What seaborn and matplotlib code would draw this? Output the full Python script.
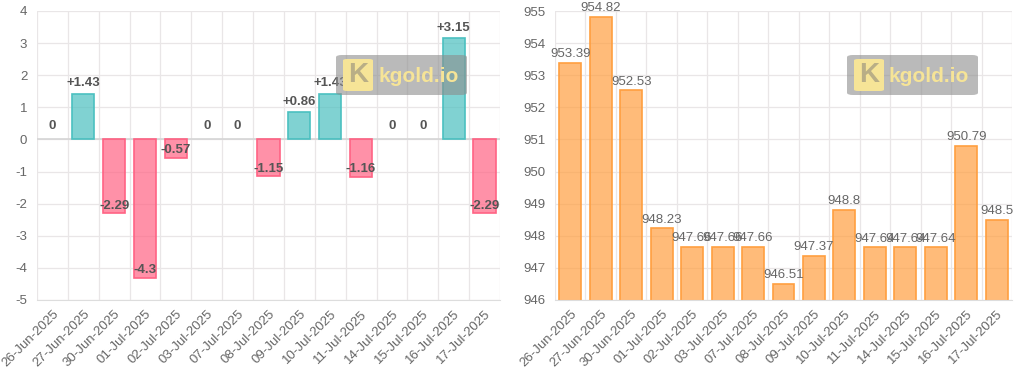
import matplotlib
matplotlib.use("Agg")
import matplotlib.pyplot as plt
import seaborn as sns
from matplotlib.patches import FancyBboxPatch
from matplotlib.ticker import FixedLocator

dates = ["26-Jun-2025", "27-Jun-2025", "30-Jun-2025", "01-Jul-2025", "02-Jul-2025",
         "03-Jul-2025", "07-Jul-2025", "08-Jul-2025", "09-Jul-2025", "10-Jul-2025",
         "11-Jul-2025", "14-Jul-2025", "15-Jul-2025", "16-Jul-2025", "17-Jul-2025"]
changes = [0, 1.43, -2.29, -4.3, -0.57, 0, 0, -1.15, 0.86, 1.43, -1.16, 0, 0, 3.15, -2.29]
prices = [953.39, 954.82, 952.53, 948.23, 947.66, 947.66, 947.66, 946.51, 947.37,
          948.8, 947.64, 947.64, 947.64, 950.79, 948.5]
price_labels = ["953.39", "954.82", "952.53", "948.23", "947.66", "947.66", "947.66",
                "946.51", "947.37", "948.8", "947.64", "947.64", "947.64", "950.79", "948.5"]

sns.set_style("white")
plt.rcParams["font.family"] = ["Liberation Sans", "DejaVu Sans"]
plt.rcParams["axes.unicode_minus"] = False

TEAL_F, TEAL_E = (75/255, 192/255, 192/255, 0.7), "#4bc0c0"
PINK_F, PINK_E = (255/255, 99/255, 132/255, 0.7), "#ff6384"
ORNG_F, ORNG_E = (255/255, 159/255, 64/255, 0.7), "#ff9f40"
GRID = "#e9e6e7"
TXT = "#666666"
FS = 9.5

fig = plt.figure(figsize=(10.24, 3.75), dpi=100)
W, H = 1024, 375


def px_axes(l, t, r, b):
    return fig.add_axes([l / W, (H - b) / H, (r - l) / W, (b - t) / H])


ax1 = px_axes(37, 11, 500, 300)
ax2 = px_axes(555, 11, 1012, 300)


def style(ax, ticks):
    n = len(dates)
    ax.set_xlim(-0.5, n - 0.5)
    ax.set_ylim(ticks[0], ticks[-1])
    ax.yaxis.set_major_locator(FixedLocator(ticks))
    ax.set_yticklabels([str(t) for t in ticks])
    ax.set_xticks(range(n))
    ax.set_xticklabels(dates, rotation=45, ha="right", rotation_mode="anchor")
    ax.xaxis.set_minor_locator(FixedLocator([i - 0.5 for i in range(n + 1)]))
    ax.grid(False)
    for t in ticks:
        ax.axhline(t, color=GRID, lw=0.9, zorder=0)
    for i in range(n + 1):
        ax.axvline(i - 0.5, color=GRID, lw=0.9, zorder=0)
    ax.tick_params(axis="x", which="major", length=0, pad=6, labelsize=FS, labelcolor=TXT)
    ax.tick_params(axis="x", which="minor", length=7, color=GRID, width=0.9)
    ax.tick_params(axis="y", length=0, pad=7, labelsize=FS, labelcolor=TXT)
    for s in ax.spines.values():
        s.set_visible(False)
    ax.spines["bottom"].set_visible(True)
    ax.spines["bottom"].set_color("#dddddd")
    ax.set_xlabel("")
    ax.set_ylabel("")


# left: daily change
sns.barplot(x=dates, y=changes, color=TEAL_E, saturation=1,
            width=0.72, ax=ax1, zorder=2)
for p, v in zip(ax1.patches, changes):
    if v == 0:
        p.set_edgecolor("none")
        p.set_facecolor("none")
    else:
        p.set_facecolor(TEAL_F if v > 0 else PINK_F)
        p.set_edgecolor(TEAL_E if v > 0 else PINK_E)
        p.set_linewidth(1.2)
style(ax1, list(range(-5, 5)))
ax1.axhline(0, color="#d5d5d5", lw=1.2, zorder=1)
for i, v in enumerate(changes):
    if v > 0:
        lbl, off = f"+{v:g}", 3
    elif v < 0:
        lbl, off = f"{v:g}", 1
    else:
        lbl, off = "0", 5
    ax1.annotate(lbl, (i, v), xytext=(0, off), textcoords="offset points",
                 ha="center", va="bottom", fontsize=FS, fontweight="bold",
                 color="#555555", zorder=5)

# right: price
sns.barplot(x=dates, y=prices, color=ORNG_E, saturation=1, width=0.72, ax=ax2, zorder=2)
for p in ax2.patches:
    p.set_facecolor(ORNG_F)
    p.set_edgecolor(ORNG_E)
    p.set_linewidth(1.2)
style(ax2, list(range(946, 956)))
for i, (v, lbl) in enumerate(zip(prices, price_labels)):
    ax2.annotate(lbl, (i, v), xytext=(0, 2), textcoords="offset points",
                 ha="center", va="bottom", fontsize=FS, color=TXT, zorder=5)


# watermark
def watermark(x0, y0):
    w, h = 131, 40
    fig.patches.append(FancyBboxPatch(((x0) / W, (H - y0 - h) / H), w / W, h / H,
                                      boxstyle="round,pad=0,rounding_size=0.006",
                                      transform=fig.transFigure, facecolor=(0.55, 0.55, 0.55, 0.6),
                                      edgecolor="none", zorder=10))
    fig.patches.append(FancyBboxPatch(((x0 + 7) / W, (H - y0 - 36) / H), 30 / W, 32 / H,
                                      boxstyle="round,pad=0,rounding_size=0.004",
                                      transform=fig.transFigure, facecolor="#f6e497",
                                      edgecolor="none", zorder=11))
    fig.text((x0 + 22) / W, (H - y0 - 20) / H, "K", ha="center", va="center",
             fontsize=20, fontweight="bold", color="#b9ae86", zorder=12)
    fig.text((x0 + 42) / W, (H - y0 - 21) / H, "kgold.io", ha="left", va="center",
             fontsize=15, fontweight="bold", color="#f6e497", zorder=12)


watermark(336, 55)
watermark(847, 55)

fig.savefig("out.png", dpi=100, facecolor="white")
